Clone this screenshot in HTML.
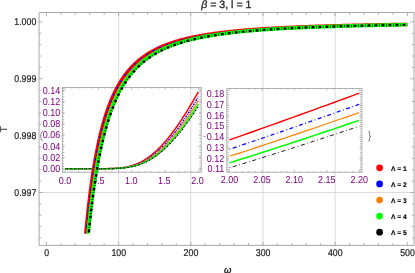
<!DOCTYPE html>
<html><head><meta charset="utf-8"><style>
html,body{margin:0;padding:0;background:#fff;}
svg{display:block;font-family:"Liberation Sans",sans-serif;text-rendering:geometricPrecision;}
.t{font-size:8.8px;fill:#1e1e1e;stroke:#1e1e1e;stroke-width:0.2px;}
.p{font-size:9px;fill:#800080;}
</style></head><body>
<svg width="415" height="273" viewBox="0 0 415 273">
<rect width="415" height="273" fill="#fff"/>
<g style="will-change:transform">
<line x1="118.58" y1="12.5" x2="118.58" y2="245.4" stroke="#d0d0d0" stroke-width="0.8"/>
<line x1="190.76" y1="12.5" x2="190.76" y2="245.4" stroke="#d0d0d0" stroke-width="0.8"/>
<line x1="262.94" y1="12.5" x2="262.94" y2="245.4" stroke="#d0d0d0" stroke-width="0.8"/>
<line x1="335.12" y1="12.5" x2="335.12" y2="245.4" stroke="#d0d0d0" stroke-width="0.8"/>
<line x1="39.05" y1="192.48" x2="414.0" y2="192.48" stroke="#d0d0d0" stroke-width="0.8"/>
<rect x="62.3" y="87.5" width="138.89999999999998" height="84.69999999999999" fill="none" stroke="#a0a0a0" stroke-width="0.8"/>
<line x1="63.4" y1="88.05" x2="63.4" y2="172.2" stroke="#9e9e9e" stroke-width="1.5" stroke-dasharray="0.7 2.093"/>
<line x1="200.1" y1="88.05" x2="200.1" y2="172.2" stroke="#9e9e9e" stroke-width="1.5" stroke-dasharray="0.7 2.093"/>
<line x1="65.10" y1="172.2" x2="65.10" y2="170.0" stroke="#9e9e9e" stroke-width="0.7"/>
<line x1="65.10" y1="87.5" x2="65.10" y2="89.7" stroke="#9e9e9e" stroke-width="0.7"/>
<line x1="71.77" y1="172.2" x2="71.77" y2="171.0" stroke="#9e9e9e" stroke-width="0.7"/>
<line x1="71.77" y1="87.5" x2="71.77" y2="88.7" stroke="#9e9e9e" stroke-width="0.7"/>
<line x1="78.43" y1="172.2" x2="78.43" y2="171.0" stroke="#9e9e9e" stroke-width="0.7"/>
<line x1="78.43" y1="87.5" x2="78.43" y2="88.7" stroke="#9e9e9e" stroke-width="0.7"/>
<line x1="85.09" y1="172.2" x2="85.09" y2="171.0" stroke="#9e9e9e" stroke-width="0.7"/>
<line x1="85.09" y1="87.5" x2="85.09" y2="88.7" stroke="#9e9e9e" stroke-width="0.7"/>
<line x1="91.76" y1="172.2" x2="91.76" y2="171.0" stroke="#9e9e9e" stroke-width="0.7"/>
<line x1="91.76" y1="87.5" x2="91.76" y2="88.7" stroke="#9e9e9e" stroke-width="0.7"/>
<line x1="98.42" y1="172.2" x2="98.42" y2="170.0" stroke="#9e9e9e" stroke-width="0.7"/>
<line x1="98.42" y1="87.5" x2="98.42" y2="89.7" stroke="#9e9e9e" stroke-width="0.7"/>
<line x1="105.09" y1="172.2" x2="105.09" y2="171.0" stroke="#9e9e9e" stroke-width="0.7"/>
<line x1="105.09" y1="87.5" x2="105.09" y2="88.7" stroke="#9e9e9e" stroke-width="0.7"/>
<line x1="111.75" y1="172.2" x2="111.75" y2="171.0" stroke="#9e9e9e" stroke-width="0.7"/>
<line x1="111.75" y1="87.5" x2="111.75" y2="88.7" stroke="#9e9e9e" stroke-width="0.7"/>
<line x1="118.42" y1="172.2" x2="118.42" y2="171.0" stroke="#9e9e9e" stroke-width="0.7"/>
<line x1="118.42" y1="87.5" x2="118.42" y2="88.7" stroke="#9e9e9e" stroke-width="0.7"/>
<line x1="125.09" y1="172.2" x2="125.09" y2="171.0" stroke="#9e9e9e" stroke-width="0.7"/>
<line x1="125.09" y1="87.5" x2="125.09" y2="88.7" stroke="#9e9e9e" stroke-width="0.7"/>
<line x1="131.75" y1="172.2" x2="131.75" y2="170.0" stroke="#9e9e9e" stroke-width="0.7"/>
<line x1="131.75" y1="87.5" x2="131.75" y2="89.7" stroke="#9e9e9e" stroke-width="0.7"/>
<line x1="138.42" y1="172.2" x2="138.42" y2="171.0" stroke="#9e9e9e" stroke-width="0.7"/>
<line x1="138.42" y1="87.5" x2="138.42" y2="88.7" stroke="#9e9e9e" stroke-width="0.7"/>
<line x1="145.08" y1="172.2" x2="145.08" y2="171.0" stroke="#9e9e9e" stroke-width="0.7"/>
<line x1="145.08" y1="87.5" x2="145.08" y2="88.7" stroke="#9e9e9e" stroke-width="0.7"/>
<line x1="151.75" y1="172.2" x2="151.75" y2="171.0" stroke="#9e9e9e" stroke-width="0.7"/>
<line x1="151.75" y1="87.5" x2="151.75" y2="88.7" stroke="#9e9e9e" stroke-width="0.7"/>
<line x1="158.41" y1="172.2" x2="158.41" y2="171.0" stroke="#9e9e9e" stroke-width="0.7"/>
<line x1="158.41" y1="87.5" x2="158.41" y2="88.7" stroke="#9e9e9e" stroke-width="0.7"/>
<line x1="165.07" y1="172.2" x2="165.07" y2="170.0" stroke="#9e9e9e" stroke-width="0.7"/>
<line x1="165.07" y1="87.5" x2="165.07" y2="89.7" stroke="#9e9e9e" stroke-width="0.7"/>
<line x1="171.74" y1="172.2" x2="171.74" y2="171.0" stroke="#9e9e9e" stroke-width="0.7"/>
<line x1="171.74" y1="87.5" x2="171.74" y2="88.7" stroke="#9e9e9e" stroke-width="0.7"/>
<line x1="178.41" y1="172.2" x2="178.41" y2="171.0" stroke="#9e9e9e" stroke-width="0.7"/>
<line x1="178.41" y1="87.5" x2="178.41" y2="88.7" stroke="#9e9e9e" stroke-width="0.7"/>
<line x1="185.07" y1="172.2" x2="185.07" y2="171.0" stroke="#9e9e9e" stroke-width="0.7"/>
<line x1="185.07" y1="87.5" x2="185.07" y2="88.7" stroke="#9e9e9e" stroke-width="0.7"/>
<line x1="191.74" y1="172.2" x2="191.74" y2="171.0" stroke="#9e9e9e" stroke-width="0.7"/>
<line x1="191.74" y1="87.5" x2="191.74" y2="88.7" stroke="#9e9e9e" stroke-width="0.7"/>
<line x1="198.40" y1="172.2" x2="198.40" y2="170.0" stroke="#9e9e9e" stroke-width="0.7"/>
<line x1="198.40" y1="87.5" x2="198.40" y2="89.7" stroke="#9e9e9e" stroke-width="0.7"/>
<line x1="62.3" y1="168.70" x2="64.8" y2="168.70" stroke="#9e9e9e" stroke-width="0.7"/>
<line x1="201.2" y1="168.70" x2="198.7" y2="168.70" stroke="#9e9e9e" stroke-width="0.7"/>
<line x1="62.3" y1="157.53" x2="64.8" y2="157.53" stroke="#9e9e9e" stroke-width="0.7"/>
<line x1="201.2" y1="157.53" x2="198.7" y2="157.53" stroke="#9e9e9e" stroke-width="0.7"/>
<line x1="62.3" y1="146.36" x2="64.8" y2="146.36" stroke="#9e9e9e" stroke-width="0.7"/>
<line x1="201.2" y1="146.36" x2="198.7" y2="146.36" stroke="#9e9e9e" stroke-width="0.7"/>
<line x1="62.3" y1="135.18" x2="64.8" y2="135.18" stroke="#9e9e9e" stroke-width="0.7"/>
<line x1="201.2" y1="135.18" x2="198.7" y2="135.18" stroke="#9e9e9e" stroke-width="0.7"/>
<line x1="62.3" y1="124.01" x2="64.8" y2="124.01" stroke="#9e9e9e" stroke-width="0.7"/>
<line x1="201.2" y1="124.01" x2="198.7" y2="124.01" stroke="#9e9e9e" stroke-width="0.7"/>
<line x1="62.3" y1="112.84" x2="64.8" y2="112.84" stroke="#9e9e9e" stroke-width="0.7"/>
<line x1="201.2" y1="112.84" x2="198.7" y2="112.84" stroke="#9e9e9e" stroke-width="0.7"/>
<line x1="62.3" y1="101.67" x2="64.8" y2="101.67" stroke="#9e9e9e" stroke-width="0.7"/>
<line x1="201.2" y1="101.67" x2="198.7" y2="101.67" stroke="#9e9e9e" stroke-width="0.7"/>
<line x1="62.3" y1="90.50" x2="64.8" y2="90.50" stroke="#9e9e9e" stroke-width="0.7"/>
<line x1="201.2" y1="90.50" x2="198.7" y2="90.50" stroke="#9e9e9e" stroke-width="0.7"/>
<polyline points="65.10,168.70 66.43,168.70 67.77,168.70 69.10,168.70 70.43,168.70 71.77,168.70 73.10,168.70 74.43,168.70 75.76,168.70 77.10,168.70 78.43,168.70 79.76,168.70 81.10,168.70 82.43,168.70 83.76,168.70 85.09,168.70 86.43,168.70 87.76,168.70 89.09,168.70 90.43,168.70 91.76,168.70 93.09,168.70 94.43,168.70 95.76,168.70 97.09,168.70 98.42,168.70 99.76,168.69 101.09,168.69 102.42,168.68 103.76,168.67 105.09,168.66 106.42,168.65 107.76,168.62 109.09,168.60 110.42,168.56 111.75,168.52 113.09,168.46 114.42,168.40 115.75,168.32 117.09,168.22 118.42,168.11 119.75,167.98 121.09,167.83 122.42,167.65 123.75,167.45 125.09,167.23 126.42,166.98 127.75,166.69 129.08,166.38 130.42,166.03 131.75,165.64 133.08,165.22 134.42,164.77 135.75,164.27 137.08,163.73 138.42,163.15 139.75,162.53 141.08,161.86 142.41,161.15 143.75,160.39 145.08,159.58 146.41,158.73 147.75,157.83 149.08,156.89 150.41,155.89 151.75,154.85 153.08,153.76 154.41,152.62 155.74,151.43 157.08,150.19 158.41,148.91 159.74,147.58 161.08,146.20 162.41,144.78 163.74,143.31 165.07,141.79 166.41,140.23 167.74,138.62 169.07,136.98 170.41,135.29 171.74,133.55 173.07,131.78 174.41,129.97 175.74,128.12 177.07,126.23 178.41,124.31 179.74,122.35 181.07,120.35 182.40,118.32 183.74,116.26 185.07,114.17 186.40,112.04 187.74,109.89 189.07,107.71 190.40,105.51 191.74,103.27 193.07,101.02 194.40,98.73 195.73,96.43 197.07,94.11 198.40,91.76" fill="none" stroke="#ff0000" stroke-width="1.5"/>
<polyline points="65.10,168.70 66.43,168.70 67.77,168.70 69.10,168.70 70.43,168.70 71.77,168.70 73.10,168.70 74.43,168.70 75.76,168.70 77.10,168.70 78.43,168.70 79.76,168.70 81.10,168.70 82.43,168.70 83.76,168.70 85.09,168.70 86.43,168.70 87.76,168.70 89.09,168.70 90.43,168.70 91.76,168.70 93.09,168.70 94.43,168.70 95.76,168.70 97.09,168.70 98.42,168.70 99.76,168.69 101.09,168.69 102.42,168.69 103.76,168.68 105.09,168.67 106.42,168.66 107.76,168.64 109.09,168.62 110.42,168.59 111.75,168.55 113.09,168.51 114.42,168.45 115.75,168.38 117.09,168.30 118.42,168.21 119.75,168.09 121.09,167.96 122.42,167.81 123.75,167.64 125.09,167.44 126.42,167.22 127.75,166.97 129.08,166.70 130.42,166.39 131.75,166.05 133.08,165.67 134.42,165.27 135.75,164.82 137.08,164.34 138.42,163.82 139.75,163.26 141.08,162.65 142.41,162.01 143.75,161.32 145.08,160.59 146.41,159.82 147.75,159.00 149.08,158.13 150.41,157.22 151.75,156.27 153.08,155.26 154.41,154.21 155.74,153.12 157.08,151.98 158.41,150.79 159.74,149.55 161.08,148.27 162.41,146.95 163.74,145.58 165.07,144.17 166.41,142.71 167.74,141.21 169.07,139.66 170.41,138.08 171.74,136.45 173.07,134.78 174.41,133.08 175.74,131.33 177.07,129.55 178.41,127.73 179.74,125.87 181.07,123.98 182.40,122.06 183.74,120.10 185.07,118.11 186.40,116.09 187.74,114.04 189.07,111.96 190.40,109.85 191.74,107.72 193.07,105.56 194.40,103.37 195.73,101.17 197.07,98.94 198.40,96.68" fill="none" stroke="#0000ff" stroke-width="1.4" stroke-dasharray="0.9 1.0 1.9 1.0"/>
<polyline points="65.10,168.70 66.43,168.70 67.77,168.70 69.10,168.70 70.43,168.70 71.77,168.70 73.10,168.70 74.43,168.70 75.76,168.70 77.10,168.70 78.43,168.70 79.76,168.70 81.10,168.70 82.43,168.70 83.76,168.70 85.09,168.70 86.43,168.70 87.76,168.70 89.09,168.70 90.43,168.70 91.76,168.70 93.09,168.70 94.43,168.70 95.76,168.70 97.09,168.70 98.42,168.70 99.76,168.70 101.09,168.69 102.42,168.69 103.76,168.68 105.09,168.68 106.42,168.66 107.76,168.65 109.09,168.63 110.42,168.61 111.75,168.57 113.09,168.53 114.42,168.49 115.75,168.43 117.09,168.36 118.42,168.27 119.75,168.17 121.09,168.06 122.42,167.92 123.75,167.77 125.09,167.59 126.42,167.39 127.75,167.17 129.08,166.92 130.42,166.64 131.75,166.33 133.08,165.99 134.42,165.62 135.75,165.21 137.08,164.77 138.42,164.29 139.75,163.77 141.08,163.22 142.41,162.62 143.75,161.99 145.08,161.31 146.41,160.59 147.75,159.83 149.08,159.02 150.41,158.17 151.75,157.28 153.08,156.34 154.41,155.36 155.74,154.33 157.08,153.26 158.41,152.14 159.74,150.98 161.08,149.78 162.41,148.53 163.74,147.23 165.07,145.89 166.41,144.51 167.74,143.09 169.07,141.63 170.41,140.12 171.74,138.57 173.07,136.98 174.41,135.36 175.74,133.69 177.07,131.99 178.41,130.25 179.74,128.48 181.07,126.66 182.40,124.82 183.74,122.94 185.07,121.03 186.40,119.09 187.74,117.12 189.07,115.11 190.40,113.08 191.74,111.03 193.07,108.94 194.40,106.83 195.73,104.70 197.07,102.54 198.40,100.36" fill="none" stroke="#ff8000" stroke-width="1.2"/>
<polyline points="65.10,168.70 66.43,168.70 67.77,168.70 69.10,168.70 70.43,168.70 71.77,168.70 73.10,168.70 74.43,168.70 75.76,168.70 77.10,168.70 78.43,168.70 79.76,168.70 81.10,168.70 82.43,168.70 83.76,168.70 85.09,168.70 86.43,168.70 87.76,168.70 89.09,168.70 90.43,168.70 91.76,168.70 93.09,168.70 94.43,168.70 95.76,168.70 97.09,168.70 98.42,168.70 99.76,168.70 101.09,168.69 102.42,168.69 103.76,168.69 105.09,168.68 106.42,168.67 107.76,168.66 109.09,168.64 110.42,168.62 111.75,168.59 113.09,168.56 114.42,168.52 115.75,168.46 117.09,168.40 118.42,168.33 119.75,168.24 121.09,168.13 122.42,168.01 123.75,167.88 125.09,167.72 126.42,167.54 127.75,167.34 129.08,167.11 130.42,166.86 131.75,166.57 133.08,166.27 134.42,165.92 135.75,165.55 137.08,165.15 138.42,164.71 139.75,164.23 141.08,163.72 142.41,163.17 143.75,162.58 145.08,161.95 146.41,161.29 147.75,160.58 149.08,159.83 150.41,159.03 151.75,158.20 153.08,157.32 154.41,156.40 155.74,155.44 157.08,154.43 158.41,153.38 159.74,152.28 161.08,151.15 162.41,149.97 163.74,148.74 165.07,147.48 166.41,146.17 167.74,144.82 169.07,143.43 170.41,141.99 171.74,140.52 173.07,139.01 174.41,137.46 175.74,135.87 177.07,134.24 178.41,132.58 179.74,130.88 181.07,129.15 182.40,127.38 183.74,125.58 185.07,123.74 186.40,121.87 187.74,119.98 189.07,118.05 190.40,116.09 191.74,114.11 193.07,112.09 194.40,110.06 195.73,107.99 197.07,105.91 198.40,103.80" fill="none" stroke="#00ff00" stroke-width="1.5"/>
<polyline points="65.10,168.70 66.43,168.70 67.77,168.70 69.10,168.70 70.43,168.70 71.77,168.70 73.10,168.70 74.43,168.70 75.76,168.70 77.10,168.70 78.43,168.70 79.76,168.70 81.10,168.70 82.43,168.70 83.76,168.70 85.09,168.70 86.43,168.70 87.76,168.70 89.09,168.70 90.43,168.70 91.76,168.70 93.09,168.70 94.43,168.70 95.76,168.70 97.09,168.70 98.42,168.70 99.76,168.70 101.09,168.70 102.42,168.69 103.76,168.69 105.09,168.68 106.42,168.67 107.76,168.66 109.09,168.65 110.42,168.63 111.75,168.60 113.09,168.57 114.42,168.54 115.75,168.49 117.09,168.43 118.42,168.36 119.75,168.28 121.09,168.19 122.42,168.08 123.75,167.95 125.09,167.81 126.42,167.64 127.75,167.46 129.08,167.24 130.42,167.01 131.75,166.75 133.08,166.46 134.42,166.14 135.75,165.80 137.08,165.42 138.42,165.01 139.75,164.56 141.08,164.08 142.41,163.56 143.75,163.01 145.08,162.42 146.41,161.79 147.75,161.12 149.08,160.41 150.41,159.66 151.75,158.87 153.08,158.03 154.41,157.16 155.74,156.24 157.08,155.28 158.41,154.28 159.74,153.23 161.08,152.15 162.41,151.02 163.74,149.85 165.07,148.64 166.41,147.38 167.74,146.09 169.07,144.75 170.41,143.38 171.74,141.96 173.07,140.51 174.41,139.01 175.74,137.48 177.07,135.91 178.41,134.31 179.74,132.67 181.07,130.99 182.40,129.28 183.74,127.53 185.07,125.76 186.40,123.95 187.74,122.11 189.07,120.23 190.40,118.34 191.74,116.41 193.07,114.45 194.40,112.47 195.73,110.46 197.07,108.43 198.40,106.37" fill="none" stroke="#000000" stroke-width="1.2" stroke-dasharray="0.5 0.9 1.5 0.9"/>
<text transform="translate(60.2,171.85) scale(1,1.12)" text-anchor="end" class="p">0.00</text>
<text transform="translate(60.2,160.68) scale(1,1.12)" text-anchor="end" class="p">0.02</text>
<text transform="translate(60.2,149.51) scale(1,1.12)" text-anchor="end" class="p">0.04</text>
<text transform="translate(60.2,138.33) scale(1,1.12)" text-anchor="end" class="p">0.06</text>
<text transform="translate(60.2,127.16) scale(1,1.12)" text-anchor="end" class="p">0.08</text>
<text transform="translate(60.2,115.99) scale(1,1.12)" text-anchor="end" class="p">0.10</text>
<text transform="translate(60.2,104.82) scale(1,1.12)" text-anchor="end" class="p">0.12</text>
<text transform="translate(60.2,93.65) scale(1,1.12)" text-anchor="end" class="p">0.14</text>
<text transform="translate(65.10,183.8) scale(1,1.12)" text-anchor="middle" class="p">0.0</text>
<text transform="translate(98.17,183.8) scale(1,1.12)" text-anchor="middle" class="p">0.5</text>
<text transform="translate(131.25,183.8) scale(1,1.12)" text-anchor="middle" class="p">1.0</text>
<text transform="translate(164.32,183.8) scale(1,1.12)" text-anchor="middle" class="p">1.5</text>
<text transform="translate(197.40,183.8) scale(1,1.12)" text-anchor="middle" class="p">2.0</text>
<rect x="226.8" y="88.4" width="135.09999999999997" height="83.79999999999998" fill="none" stroke="#a0a0a0" stroke-width="0.8"/>
<line x1="227.9" y1="89.97" x2="227.9" y2="172.2" stroke="#9e9e9e" stroke-width="1.5" stroke-dasharray="0.7 1.44"/>
<line x1="360.79999999999995" y1="89.97" x2="360.79999999999995" y2="172.2" stroke="#9e9e9e" stroke-width="1.5" stroke-dasharray="0.7 1.44"/>
<line x1="229.50" y1="172.2" x2="229.50" y2="170.0" stroke="#9e9e9e" stroke-width="0.7"/>
<line x1="229.50" y1="88.4" x2="229.50" y2="90.60000000000001" stroke="#9e9e9e" stroke-width="0.7"/>
<line x1="235.98" y1="172.2" x2="235.98" y2="171.0" stroke="#9e9e9e" stroke-width="0.7"/>
<line x1="235.98" y1="88.4" x2="235.98" y2="89.60000000000001" stroke="#9e9e9e" stroke-width="0.7"/>
<line x1="242.47" y1="172.2" x2="242.47" y2="171.0" stroke="#9e9e9e" stroke-width="0.7"/>
<line x1="242.47" y1="88.4" x2="242.47" y2="89.60000000000001" stroke="#9e9e9e" stroke-width="0.7"/>
<line x1="248.95" y1="172.2" x2="248.95" y2="171.0" stroke="#9e9e9e" stroke-width="0.7"/>
<line x1="248.95" y1="88.4" x2="248.95" y2="89.60000000000001" stroke="#9e9e9e" stroke-width="0.7"/>
<line x1="255.44" y1="172.2" x2="255.44" y2="171.0" stroke="#9e9e9e" stroke-width="0.7"/>
<line x1="255.44" y1="88.4" x2="255.44" y2="89.60000000000001" stroke="#9e9e9e" stroke-width="0.7"/>
<line x1="261.92" y1="172.2" x2="261.92" y2="170.0" stroke="#9e9e9e" stroke-width="0.7"/>
<line x1="261.92" y1="88.4" x2="261.92" y2="90.60000000000001" stroke="#9e9e9e" stroke-width="0.7"/>
<line x1="268.41" y1="172.2" x2="268.41" y2="171.0" stroke="#9e9e9e" stroke-width="0.7"/>
<line x1="268.41" y1="88.4" x2="268.41" y2="89.60000000000001" stroke="#9e9e9e" stroke-width="0.7"/>
<line x1="274.89" y1="172.2" x2="274.89" y2="171.0" stroke="#9e9e9e" stroke-width="0.7"/>
<line x1="274.89" y1="88.4" x2="274.89" y2="89.60000000000001" stroke="#9e9e9e" stroke-width="0.7"/>
<line x1="281.38" y1="172.2" x2="281.38" y2="171.0" stroke="#9e9e9e" stroke-width="0.7"/>
<line x1="281.38" y1="88.4" x2="281.38" y2="89.60000000000001" stroke="#9e9e9e" stroke-width="0.7"/>
<line x1="287.86" y1="172.2" x2="287.86" y2="171.0" stroke="#9e9e9e" stroke-width="0.7"/>
<line x1="287.86" y1="88.4" x2="287.86" y2="89.60000000000001" stroke="#9e9e9e" stroke-width="0.7"/>
<line x1="294.35" y1="172.2" x2="294.35" y2="170.0" stroke="#9e9e9e" stroke-width="0.7"/>
<line x1="294.35" y1="88.4" x2="294.35" y2="90.60000000000001" stroke="#9e9e9e" stroke-width="0.7"/>
<line x1="300.83" y1="172.2" x2="300.83" y2="171.0" stroke="#9e9e9e" stroke-width="0.7"/>
<line x1="300.83" y1="88.4" x2="300.83" y2="89.60000000000001" stroke="#9e9e9e" stroke-width="0.7"/>
<line x1="307.32" y1="172.2" x2="307.32" y2="171.0" stroke="#9e9e9e" stroke-width="0.7"/>
<line x1="307.32" y1="88.4" x2="307.32" y2="89.60000000000001" stroke="#9e9e9e" stroke-width="0.7"/>
<line x1="313.80" y1="172.2" x2="313.80" y2="171.0" stroke="#9e9e9e" stroke-width="0.7"/>
<line x1="313.80" y1="88.4" x2="313.80" y2="89.60000000000001" stroke="#9e9e9e" stroke-width="0.7"/>
<line x1="320.29" y1="172.2" x2="320.29" y2="171.0" stroke="#9e9e9e" stroke-width="0.7"/>
<line x1="320.29" y1="88.4" x2="320.29" y2="89.60000000000001" stroke="#9e9e9e" stroke-width="0.7"/>
<line x1="326.77" y1="172.2" x2="326.77" y2="170.0" stroke="#9e9e9e" stroke-width="0.7"/>
<line x1="326.77" y1="88.4" x2="326.77" y2="90.60000000000001" stroke="#9e9e9e" stroke-width="0.7"/>
<line x1="333.26" y1="172.2" x2="333.26" y2="171.0" stroke="#9e9e9e" stroke-width="0.7"/>
<line x1="333.26" y1="88.4" x2="333.26" y2="89.60000000000001" stroke="#9e9e9e" stroke-width="0.7"/>
<line x1="339.74" y1="172.2" x2="339.74" y2="171.0" stroke="#9e9e9e" stroke-width="0.7"/>
<line x1="339.74" y1="88.4" x2="339.74" y2="89.60000000000001" stroke="#9e9e9e" stroke-width="0.7"/>
<line x1="346.23" y1="172.2" x2="346.23" y2="171.0" stroke="#9e9e9e" stroke-width="0.7"/>
<line x1="346.23" y1="88.4" x2="346.23" y2="89.60000000000001" stroke="#9e9e9e" stroke-width="0.7"/>
<line x1="352.71" y1="172.2" x2="352.71" y2="171.0" stroke="#9e9e9e" stroke-width="0.7"/>
<line x1="352.71" y1="88.4" x2="352.71" y2="89.60000000000001" stroke="#9e9e9e" stroke-width="0.7"/>
<line x1="359.20" y1="172.2" x2="359.20" y2="170.0" stroke="#9e9e9e" stroke-width="0.7"/>
<line x1="359.20" y1="88.4" x2="359.20" y2="90.60000000000001" stroke="#9e9e9e" stroke-width="0.7"/>
<line x1="226.8" y1="169.50" x2="229.3" y2="169.50" stroke="#9e9e9e" stroke-width="0.7"/>
<line x1="361.9" y1="169.50" x2="359.4" y2="169.50" stroke="#9e9e9e" stroke-width="0.7"/>
<line x1="226.8" y1="158.80" x2="229.3" y2="158.80" stroke="#9e9e9e" stroke-width="0.7"/>
<line x1="361.9" y1="158.80" x2="359.4" y2="158.80" stroke="#9e9e9e" stroke-width="0.7"/>
<line x1="226.8" y1="148.10" x2="229.3" y2="148.10" stroke="#9e9e9e" stroke-width="0.7"/>
<line x1="361.9" y1="148.10" x2="359.4" y2="148.10" stroke="#9e9e9e" stroke-width="0.7"/>
<line x1="226.8" y1="137.40" x2="229.3" y2="137.40" stroke="#9e9e9e" stroke-width="0.7"/>
<line x1="361.9" y1="137.40" x2="359.4" y2="137.40" stroke="#9e9e9e" stroke-width="0.7"/>
<line x1="226.8" y1="126.70" x2="229.3" y2="126.70" stroke="#9e9e9e" stroke-width="0.7"/>
<line x1="361.9" y1="126.70" x2="359.4" y2="126.70" stroke="#9e9e9e" stroke-width="0.7"/>
<line x1="226.8" y1="116.00" x2="229.3" y2="116.00" stroke="#9e9e9e" stroke-width="0.7"/>
<line x1="361.9" y1="116.00" x2="359.4" y2="116.00" stroke="#9e9e9e" stroke-width="0.7"/>
<line x1="226.8" y1="105.30" x2="229.3" y2="105.30" stroke="#9e9e9e" stroke-width="0.7"/>
<line x1="361.9" y1="105.30" x2="359.4" y2="105.30" stroke="#9e9e9e" stroke-width="0.7"/>
<line x1="226.8" y1="94.60" x2="229.3" y2="94.60" stroke="#9e9e9e" stroke-width="0.7"/>
<line x1="361.9" y1="94.60" x2="359.4" y2="94.60" stroke="#9e9e9e" stroke-width="0.7"/>
<polyline points="229.50,139.82 235.98,137.56 242.47,135.30 248.96,133.02 255.44,130.73 261.92,128.44 268.41,126.14 274.90,123.83 281.38,121.51 287.86,119.18 294.35,116.85 300.84,114.51 307.32,112.17 313.80,109.82 320.29,107.46 326.78,105.10 333.26,102.73 339.74,100.36 346.23,97.98 352.72,95.59 359.20,93.21" fill="none" stroke="#ff0000" stroke-width="1.4"/>
<polyline points="229.50,149.25 235.98,147.08 242.47,144.90 248.96,142.71 255.44,140.50 261.92,138.30 268.41,136.08 274.90,133.85 281.38,131.62 287.86,129.37 294.35,127.12 300.84,124.87 307.32,122.60 313.80,120.33 320.29,118.05 326.78,115.76 333.26,113.47 339.74,111.17 346.23,108.87 352.72,106.56 359.20,104.25" fill="none" stroke="#0000ff" stroke-width="1.25" stroke-dasharray="0.8 2.6 4.0 2.6"/>
<polyline points="229.50,156.29 235.98,154.18 242.47,152.07 248.96,149.95 255.44,147.81 261.92,145.67 268.41,143.52 274.90,141.36 281.38,139.19 287.86,137.01 294.35,134.82 300.84,132.63 307.32,130.42 313.80,128.21 320.29,126.00 326.78,123.77 333.26,121.54 339.74,119.30 346.23,117.06 352.72,114.81 359.20,112.55" fill="none" stroke="#ff8000" stroke-width="1.2"/>
<polyline points="229.50,162.87 235.98,160.84 242.47,158.79 248.96,156.73 255.44,154.66 261.92,152.58 268.41,150.49 274.90,148.40 281.38,146.29 287.86,144.17 294.35,142.05 300.84,139.92 307.32,137.78 313.80,135.63 320.29,133.47 326.78,131.31 333.26,129.13 339.74,126.96 346.23,124.77 352.72,122.58 359.20,120.38" fill="none" stroke="#00ff00" stroke-width="1.5"/>
<polyline points="229.50,167.81 235.98,165.82 242.47,163.82 248.96,161.81 255.44,159.80 261.92,157.77 268.41,155.73 274.90,153.68 281.38,151.62 287.86,149.56 294.35,147.48 300.84,145.40 307.32,143.30 313.80,141.20 320.29,139.09 326.78,136.97 333.26,134.85 339.74,132.71 346.23,130.57 352.72,128.43 359.20,126.27" fill="none" stroke="#000000" stroke-width="0.9" stroke-dasharray="0.8 2.6 4.2 2.6"/>
<text transform="translate(224.3,172.20) scale(1,1.12)" text-anchor="end" class="p">0.11</text>
<text transform="translate(224.3,161.50) scale(1,1.12)" text-anchor="end" class="p">0.12</text>
<text transform="translate(224.3,150.80) scale(1,1.12)" text-anchor="end" class="p">0.13</text>
<text transform="translate(224.3,140.10) scale(1,1.12)" text-anchor="end" class="p">0.14</text>
<text transform="translate(224.3,129.40) scale(1,1.12)" text-anchor="end" class="p">0.15</text>
<text transform="translate(224.3,118.70) scale(1,1.12)" text-anchor="end" class="p">0.16</text>
<text transform="translate(224.3,108.00) scale(1,1.12)" text-anchor="end" class="p">0.17</text>
<text transform="translate(224.3,97.30) scale(1,1.12)" text-anchor="end" class="p">0.18</text>
<text transform="translate(229.50,183.3) scale(1,1.12)" text-anchor="middle" class="p">2.00</text>
<text transform="translate(261.92,183.3) scale(1,1.12)" text-anchor="middle" class="p">2.05</text>
<text transform="translate(294.35,183.3) scale(1,1.12)" text-anchor="middle" class="p">2.10</text>
<text transform="translate(326.77,183.3) scale(1,1.12)" text-anchor="middle" class="p">2.15</text>
<text transform="translate(359.20,183.3) scale(1,1.12)" text-anchor="middle" class="p">2.20</text>
<text x="41.3" y="138.6" text-anchor="middle" font-size="11" fill="#8a8a8a">(</text>
<text x="369.6" y="138.5" text-anchor="middle" font-size="10.8" fill="#777">}</text>
<line x1="48.5" y1="136.2" x2="60.2" y2="136.2" stroke="#aaa" stroke-width="1" opacity="0.55"/>
<line x1="203.5" y1="136.6" x2="205.5" y2="136.6" stroke="#999" stroke-width="1"/>
<clipPath id="cp"><rect x="39" y="12" width="375" height="221.5"/></clipPath>
<g clip-path="url(#cp)">
<polyline points="78.88,333.58 79.22,327.14 79.56,320.91 79.90,314.86 80.24,309.00 80.58,303.31 80.92,297.78 81.26,292.42 81.60,287.21 81.95,282.16 82.29,277.24 82.63,272.46 82.97,267.82 83.31,263.30 83.65,258.91 83.99,254.64 84.33,250.48 84.67,246.43 85.01,242.48 85.35,238.65 85.69,234.91 86.03,231.26 86.37,227.71 86.71,224.25 87.05,220.87 87.39,217.58 87.73,214.37 88.07,211.24 88.41,208.18 88.75,205.20 89.10,202.29 89.44,199.44 89.78,196.67 90.12,193.96 90.46,191.31 90.80,188.72 91.14,186.19 91.48,183.72 91.82,181.30 92.16,178.94 92.50,176.63 92.84,174.37 93.18,172.15 93.52,169.99 93.86,167.87 94.20,165.80 94.54,163.77 94.88,161.79 95.22,159.84 95.56,157.94 95.90,156.08 96.25,154.25 96.59,152.46 96.93,150.71 97.27,148.99 97.61,147.30 97.95,145.65 98.29,144.03 98.63,142.45 98.97,140.89 99.31,139.36 99.65,137.87 99.99,136.40 100.33,134.96 100.67,133.54 101.01,132.15 101.35,130.79 101.69,129.45 102.03,128.14 102.37,126.85 102.71,125.59 103.05,124.35 103.39,123.13 103.74,121.93 104.08,120.75 104.42,119.59 104.76,118.46 105.10,117.34 105.44,116.24 105.78,115.16 106.12,114.10 106.46,113.06 106.80,112.04 107.14,111.03 107.48,110.04 107.82,109.06 108.16,108.10 108.50,107.16 108.84,106.23 109.18,105.32 109.52,104.42 109.86,103.54 110.20,102.67 110.54,101.82 110.89,100.98 111.23,100.15 111.57,99.33 111.91,98.53 112.25,97.74 112.59,96.96 112.93,96.19 113.27,95.44 113.61,94.70 113.95,93.96 114.29,93.24 114.63,92.53 114.97,91.83 115.31,91.14 115.65,90.46 115.99,89.80 116.33,89.14 116.67,88.49 117.01,87.85 117.35,87.21 117.69,86.59 118.04,85.98 118.38,85.37 118.72,84.78 119.06,84.19 119.40,83.61 119.74,83.04 120.08,82.47 120.42,81.92 120.76,81.37 121.10,80.83 121.44,80.30 121.78,79.77 122.12,79.25 122.46,78.74 122.80,78.23 123.14,77.73 123.48,77.24 123.82,76.76 124.16,76.28 124.50,75.80 124.84,75.34 125.19,74.88 125.53,74.42 125.87,73.97 126.21,73.53 126.55,73.09 126.89,72.66 127.23,72.23 127.57,71.81 127.91,71.39 128.25,70.98 128.59,70.58 128.93,70.18 129.27,69.78 129.61,69.39 129.95,69.00 130.29,68.62 130.63,68.24 130.97,67.87 131.31,67.50 131.65,67.14 131.99,66.78 132.34,66.43 132.68,66.08 133.02,65.73 134.39,64.37 135.77,63.07 137.15,61.83 138.53,60.64 139.91,59.51 141.29,58.42 142.66,57.38 144.04,56.39 145.42,55.44 146.80,54.52 148.18,53.64 149.56,52.80 150.93,51.99 152.31,51.21 153.69,50.47 155.07,49.75 156.45,49.05 157.83,48.38 159.20,47.74 160.58,47.12 161.96,46.52 163.34,45.95 164.72,45.39 166.10,44.85 167.47,44.33 168.85,43.83 170.23,43.34 171.61,42.87 172.99,42.42 174.37,41.98 175.74,41.56 177.12,41.14 178.50,40.74 179.88,40.36 181.26,39.98 182.64,39.62 184.01,39.26 185.39,38.92 186.77,38.59 188.15,38.27 189.53,37.95 190.91,37.65 192.28,37.35 193.66,37.06 195.04,36.78 196.42,36.51 197.80,36.25 199.17,35.99 200.55,35.74 201.93,35.49 203.31,35.26 204.69,35.02 206.07,34.80 207.44,34.58 208.82,34.36 210.20,34.16 211.58,33.95 212.96,33.75 214.34,33.56 215.71,33.37 217.09,33.19 218.47,33.01 219.85,32.83 221.23,32.66 222.61,32.49 223.98,32.33 225.36,32.17 226.74,32.01 228.12,31.86 229.50,31.71 230.88,31.56 232.25,31.42 233.63,31.28 235.01,31.14 236.39,31.01 237.77,30.88 239.15,30.75 240.52,30.63 241.90,30.50 243.28,30.38 244.66,30.27 246.04,30.15 247.42,30.04 248.79,29.93 250.17,29.82 251.55,29.71 252.93,29.61 254.31,29.51 255.69,29.41 257.06,29.31 258.44,29.21 259.82,29.12 261.20,29.03 262.58,28.94 263.96,28.85 265.33,28.76 266.71,28.67 268.09,28.59 269.47,28.51 270.85,28.43 272.23,28.35 273.60,28.27 274.98,28.19 276.36,28.12 277.74,28.04 279.12,27.97 280.50,27.90 281.87,27.83 283.25,27.76 284.63,27.69 286.01,27.63 287.39,27.56 288.77,27.50 290.14,27.43 291.52,27.37 292.90,27.31 294.28,27.25 295.66,27.19 297.04,27.13 298.41,27.08 299.79,27.02 301.17,26.97 302.55,26.91 303.93,26.86 305.30,26.81 306.68,26.75 308.06,26.70 309.44,26.65 310.82,26.60 312.20,26.55 313.57,26.51 314.95,26.46 316.33,26.41 317.71,26.37 319.09,26.32 320.47,26.28 321.84,26.23 323.22,26.19 324.60,26.15 325.98,26.11 327.36,26.07 328.74,26.03 330.11,25.99 331.49,25.95 332.87,25.91 334.25,25.87 335.63,25.83 337.01,25.79 338.38,25.76 339.76,25.72 341.14,25.69 342.52,25.65 343.90,25.62 345.28,25.58 346.65,25.55 348.03,25.51 349.41,25.48 350.79,25.45 352.17,25.42 353.55,25.39 354.92,25.35 356.30,25.32 357.68,25.29 359.06,25.26 360.44,25.23 361.82,25.21 363.19,25.18 364.57,25.15 365.95,25.12 367.33,25.09 368.71,25.07 370.09,25.04 371.46,25.01 372.84,24.99 374.22,24.96 375.60,24.93 376.98,24.91 378.36,24.88 379.73,24.86 381.11,24.84 382.49,24.81 383.87,24.79 385.25,24.76 386.63,24.74 388.00,24.72 389.38,24.70 390.76,24.67 392.14,24.65 393.52,24.63 394.90,24.61 396.27,24.59 397.65,24.57 399.03,24.54 400.41,24.52 401.79,24.50 403.17,24.48 404.54,24.46 405.92,24.44 407.30,24.42" fill="none" stroke="#ff0000" stroke-width="3.6" stroke-linejoin="round"/>
<polyline points="78.88,334.98 79.22,328.52 79.56,322.26 79.90,316.18 80.24,310.29 80.58,304.57 80.92,299.03 81.26,293.64 81.60,288.41 81.95,283.33 82.29,278.39 82.63,273.59 82.97,268.93 83.31,264.39 83.65,259.98 83.99,255.68 84.33,251.51 84.67,247.44 85.01,243.48 85.35,239.62 85.69,235.86 86.03,232.20 86.37,228.64 86.71,225.16 87.05,221.77 87.39,218.46 87.73,215.24 88.07,212.09 88.41,209.02 88.75,206.02 89.10,203.10 89.44,200.24 89.78,197.46 90.12,194.73 90.46,192.07 90.80,189.47 91.14,186.93 91.48,184.45 91.82,182.02 92.16,179.64 92.50,177.32 92.84,175.05 93.18,172.83 93.52,170.66 93.86,168.53 94.20,166.45 94.54,164.41 94.88,162.42 95.22,160.47 95.56,158.55 95.90,156.68 96.25,154.84 96.59,153.05 96.93,151.29 97.27,149.56 97.61,147.87 97.95,146.21 98.29,144.58 98.63,142.99 98.97,141.43 99.31,139.89 99.65,138.39 99.99,136.91 100.33,135.46 100.67,134.04 101.01,132.65 101.35,131.28 101.69,129.94 102.03,128.62 102.37,127.33 102.71,126.06 103.05,124.81 103.39,123.58 103.74,122.38 104.08,121.19 104.42,120.03 104.76,118.89 105.10,117.77 105.44,116.67 105.78,115.58 106.12,114.52 106.46,113.47 106.80,112.44 107.14,111.43 107.48,110.43 107.82,109.45 108.16,108.49 108.50,107.55 108.84,106.61 109.18,105.70 109.52,104.80 109.86,103.91 110.20,103.04 110.54,102.18 110.89,101.33 111.23,100.50 111.57,99.68 111.91,98.87 112.25,98.08 112.59,97.30 112.93,96.53 113.27,95.77 113.61,95.02 113.95,94.29 114.29,93.56 114.63,92.85 114.97,92.15 115.31,91.46 115.65,90.77 115.99,90.10 116.33,89.44 116.67,88.79 117.01,88.14 117.35,87.51 117.69,86.88 118.04,86.27 118.38,85.66 118.72,85.06 119.06,84.47 119.40,83.89 119.74,83.31 120.08,82.75 120.42,82.19 120.76,81.64 121.10,81.09 121.44,80.56 121.78,80.03 122.12,79.51 122.46,78.99 122.80,78.49 123.14,77.98 123.48,77.49 123.82,77.00 124.16,76.52 124.50,76.05 124.84,75.58 125.19,75.11 125.53,74.66 125.87,74.21 126.21,73.76 126.55,73.32 126.89,72.89 127.23,72.46 127.57,72.03 127.91,71.62 128.25,71.20 128.59,70.80 128.93,70.39 129.27,70.00 129.61,69.60 129.95,69.22 130.29,68.83 130.63,68.45 130.97,68.08 131.31,67.71 131.65,67.34 131.99,66.98 132.34,66.63 132.68,66.28 133.02,65.93 134.39,64.56 135.77,63.25 137.15,62.01 138.53,60.82 139.91,59.68 141.29,58.59 142.66,57.54 144.04,56.54 145.42,55.59 146.80,54.67 148.18,53.79 149.56,52.94 150.93,52.13 152.31,51.35 153.69,50.59 155.07,49.87 156.45,49.17 157.83,48.50 159.20,47.86 160.58,47.23 161.96,46.63 163.34,46.05 164.72,45.49 166.10,44.95 167.47,44.43 168.85,43.93 170.23,43.44 171.61,42.97 172.99,42.51 174.37,42.07 175.74,41.64 177.12,41.23 178.50,40.83 179.88,40.44 181.26,40.06 182.64,39.70 184.01,39.34 185.39,39.00 186.77,38.66 188.15,38.34 189.53,38.02 190.91,37.72 192.28,37.42 193.66,37.13 195.04,36.85 196.42,36.58 197.80,36.31 199.17,36.05 200.55,35.80 201.93,35.55 203.31,35.32 204.69,35.08 206.07,34.86 207.44,34.64 208.82,34.42 210.20,34.21 211.58,34.01 212.96,33.81 214.34,33.61 215.71,33.42 217.09,33.24 218.47,33.06 219.85,32.88 221.23,32.71 222.61,32.54 223.98,32.37 225.36,32.21 226.74,32.06 228.12,31.90 229.50,31.75 230.88,31.61 232.25,31.46 233.63,31.32 235.01,31.18 236.39,31.05 237.77,30.92 239.15,30.79 240.52,30.67 241.90,30.54 243.28,30.42 244.66,30.30 246.04,30.19 247.42,30.07 248.79,29.96 250.17,29.85 251.55,29.75 252.93,29.64 254.31,29.54 255.69,29.44 257.06,29.34 258.44,29.25 259.82,29.15 261.20,29.06 262.58,28.97 263.96,28.88 265.33,28.79 266.71,28.71 268.09,28.62 269.47,28.54 270.85,28.46 272.23,28.38 273.60,28.30 274.98,28.22 276.36,28.15 277.74,28.07 279.12,28.00 280.50,27.93 281.87,27.86 283.25,27.79 284.63,27.72 286.01,27.65 287.39,27.59 288.77,27.52 290.14,27.46 291.52,27.40 292.90,27.34 294.28,27.28 295.66,27.22 297.04,27.16 298.41,27.10 299.79,27.04 301.17,26.99 302.55,26.93 303.93,26.88 305.30,26.83 306.68,26.78 308.06,26.72 309.44,26.67 310.82,26.62 312.20,26.58 313.57,26.53 314.95,26.48 316.33,26.43 317.71,26.39 319.09,26.34 320.47,26.30 321.84,26.25 323.22,26.21 324.60,26.17 325.98,26.13 327.36,26.08 328.74,26.04 330.11,26.00 331.49,25.96 332.87,25.92 334.25,25.89 335.63,25.85 337.01,25.81 338.38,25.77 339.76,25.74 341.14,25.70 342.52,25.67 343.90,25.63 345.28,25.60 346.65,25.56 348.03,25.53 349.41,25.50 350.79,25.46 352.17,25.43 353.55,25.40 354.92,25.37 356.30,25.34 357.68,25.31 359.06,25.28 360.44,25.25 361.82,25.22 363.19,25.19 364.57,25.16 365.95,25.13 367.33,25.11 368.71,25.08 370.09,25.05 371.46,25.03 372.84,25.00 374.22,24.97 375.60,24.95 376.98,24.92 378.36,24.90 379.73,24.87 381.11,24.85 382.49,24.82 383.87,24.80 385.25,24.78 386.63,24.75 388.00,24.73 389.38,24.71 390.76,24.69 392.14,24.66 393.52,24.64 394.90,24.62 396.27,24.60 397.65,24.58 399.03,24.56 400.41,24.54 401.79,24.52 403.17,24.50 404.54,24.48 405.92,24.46 407.30,24.44" fill="none" stroke="#0000ff" stroke-width="1.1" stroke-dasharray="0.9 1.9 2.8 1.9" stroke-linejoin="round"/>
<polyline points="78.88,351.83 79.22,345.02 79.56,338.42 79.90,332.02 80.24,325.81 80.58,319.79 80.92,313.94 81.26,308.26 81.60,302.75 81.95,297.40 82.29,292.19 82.63,287.14 82.97,282.22 83.31,277.44 83.65,272.79 83.99,268.26 84.33,263.86 84.67,259.58 85.01,255.40 85.35,251.34 85.69,247.38 86.03,243.52 86.37,239.76 86.71,236.10 87.05,232.52 87.39,229.04 87.73,225.64 88.07,222.33 88.41,219.09 88.75,215.93 89.10,212.85 89.44,209.84 89.78,206.90 90.12,204.03 90.46,201.23 90.80,198.49 91.14,195.81 91.48,193.19 91.82,190.63 92.16,188.13 92.50,185.69 92.84,183.29 93.18,180.95 93.52,178.66 93.86,176.42 94.20,174.23 94.54,172.08 94.88,169.98 95.22,167.92 95.56,165.91 95.90,163.93 96.25,162.00 96.59,160.10 96.93,158.25 97.27,156.43 97.61,154.65 97.95,152.90 98.29,151.18 98.63,149.50 98.97,147.86 99.31,146.24 99.65,144.66 99.99,143.10 100.33,141.58 100.67,140.08 101.01,138.61 101.35,137.17 101.69,135.75 102.03,134.36 102.37,133.00 102.71,131.66 103.05,130.35 103.39,129.05 103.74,127.78 104.08,126.54 104.42,125.31 104.76,124.11 105.10,122.93 105.44,121.77 105.78,120.62 106.12,119.50 106.46,118.40 106.80,117.31 107.14,116.25 107.48,115.20 107.82,114.17 108.16,113.15 108.50,112.15 108.84,111.17 109.18,110.21 109.52,109.26 109.86,108.32 110.20,107.40 110.54,106.50 110.89,105.61 111.23,104.73 111.57,103.87 111.91,103.02 112.25,102.18 112.59,101.36 112.93,100.54 113.27,99.75 113.61,98.96 113.95,98.18 114.29,97.42 114.63,96.67 114.97,95.93 115.31,95.20 115.65,94.48 115.99,93.77 116.33,93.07 116.67,92.39 117.01,91.71 117.35,91.04 117.69,90.38 118.04,89.73 118.38,89.09 118.72,88.46 119.06,87.84 119.40,87.22 119.74,86.62 120.08,86.02 120.42,85.43 120.76,84.85 121.10,84.28 121.44,83.71 121.78,83.16 122.12,82.61 122.46,82.07 122.80,81.53 123.14,81.00 123.48,80.48 123.82,79.97 124.16,79.46 124.50,78.96 124.84,78.47 125.19,77.98 125.53,77.50 125.87,77.02 126.21,76.55 126.55,76.09 126.89,75.63 127.23,75.18 127.57,74.73 127.91,74.29 128.25,73.86 128.59,73.43 128.93,73.00 129.27,72.58 129.61,72.17 129.95,71.76 130.29,71.36 130.63,70.96 130.97,70.56 131.31,70.18 131.65,69.79 131.99,69.41 132.34,69.03 132.68,68.66 133.02,68.30 134.39,66.85 135.77,65.48 137.15,64.16 138.53,62.91 139.91,61.71 141.29,60.56 142.66,59.46 144.04,58.41 145.42,57.40 146.80,56.43 148.18,55.50 149.56,54.61 150.93,53.75 152.31,52.93 153.69,52.14 155.07,51.38 156.45,50.64 157.83,49.94 159.20,49.25 160.58,48.60 161.96,47.97 163.34,47.35 164.72,46.76 166.10,46.20 167.47,45.65 168.85,45.11 170.23,44.60 171.61,44.10 172.99,43.62 174.37,43.16 175.74,42.71 177.12,42.27 178.50,41.85 179.88,41.44 181.26,41.04 182.64,40.65 184.01,40.28 185.39,39.92 186.77,39.57 188.15,39.22 189.53,38.89 190.91,38.57 192.28,38.26 193.66,37.95 195.04,37.65 196.42,37.37 197.80,37.09 199.17,36.81 200.55,36.55 201.93,36.29 203.31,36.04 204.69,35.79 206.07,35.55 207.44,35.32 208.82,35.09 210.20,34.87 211.58,34.66 212.96,34.45 214.34,34.24 215.71,34.04 217.09,33.85 218.47,33.66 219.85,33.47 221.23,33.29 222.61,33.11 223.98,32.94 225.36,32.77 226.74,32.60 228.12,32.44 229.50,32.28 230.88,32.13 232.25,31.98 233.63,31.83 235.01,31.68 236.39,31.54 237.77,31.40 239.15,31.27 240.52,31.14 241.90,31.01 243.28,30.88 244.66,30.76 246.04,30.63 247.42,30.51 248.79,30.40 250.17,30.28 251.55,30.17 252.93,30.06 254.31,29.95 255.69,29.85 257.06,29.74 258.44,29.64 259.82,29.54 261.20,29.44 262.58,29.35 263.96,29.25 265.33,29.16 266.71,29.07 268.09,28.98 269.47,28.90 270.85,28.81 272.23,28.73 273.60,28.64 274.98,28.56 276.36,28.48 277.74,28.40 279.12,28.33 280.50,28.25 281.87,28.18 283.25,28.10 284.63,28.03 286.01,27.96 287.39,27.89 288.77,27.83 290.14,27.76 291.52,27.69 292.90,27.63 294.28,27.57 295.66,27.50 297.04,27.44 298.41,27.38 299.79,27.32 301.17,27.26 302.55,27.21 303.93,27.15 305.30,27.09 306.68,27.04 308.06,26.98 309.44,26.93 310.82,26.88 312.20,26.83 313.57,26.78 314.95,26.73 316.33,26.68 317.71,26.63 319.09,26.58 320.47,26.53 321.84,26.49 323.22,26.44 324.60,26.40 325.98,26.35 327.36,26.31 328.74,26.27 330.11,26.22 331.49,26.18 332.87,26.14 334.25,26.10 335.63,26.06 337.01,26.02 338.38,25.98 339.76,25.94 341.14,25.91 342.52,25.87 343.90,25.83 345.28,25.80 346.65,25.76 348.03,25.73 349.41,25.69 350.79,25.66 352.17,25.62 353.55,25.59 354.92,25.56 356.30,25.52 357.68,25.49 359.06,25.46 360.44,25.43 361.82,25.40 363.19,25.37 364.57,25.34 365.95,25.31 367.33,25.28 368.71,25.25 370.09,25.22 371.46,25.19 372.84,25.17 374.22,25.14 375.60,25.11 376.98,25.09 378.36,25.06 379.73,25.03 381.11,25.01 382.49,24.98 383.87,24.96 385.25,24.93 386.63,24.91 388.00,24.88 389.38,24.86 390.76,24.84 392.14,24.81 393.52,24.79 394.90,24.77 396.27,24.74 397.65,24.72 399.03,24.70 400.41,24.68 401.79,24.66 403.17,24.63 404.54,24.61 405.92,24.59 407.30,24.57" fill="none" stroke="#ff8000" stroke-width="0.9" stroke-linejoin="round"/>
<polyline points="78.88,371.48 79.22,364.27 79.56,357.27 79.90,350.49 80.24,343.91 80.58,337.53 80.92,331.34 81.26,325.32 81.60,319.48 81.95,313.81 82.29,308.30 82.63,302.94 82.97,297.73 83.31,292.66 83.65,287.74 83.99,282.94 84.33,278.28 84.67,273.73 85.01,269.31 85.35,265.01 85.69,260.81 86.03,256.72 86.37,252.74 86.71,248.86 87.05,245.07 87.39,241.38 87.73,237.78 88.07,234.27 88.41,230.84 88.75,227.49 89.10,224.23 89.44,221.04 89.78,217.92 90.12,214.88 90.46,211.91 90.80,209.01 91.14,206.17 91.48,203.40 91.82,200.69 92.16,198.04 92.50,195.44 92.84,192.91 93.18,190.43 93.52,188.00 93.86,185.63 94.20,183.30 94.54,181.03 94.88,178.80 95.22,176.62 95.56,174.49 95.90,172.39 96.25,170.35 96.59,168.34 96.93,166.37 97.27,164.44 97.61,162.55 97.95,160.70 98.29,158.89 98.63,157.11 98.97,155.36 99.31,153.65 99.65,151.97 99.99,150.32 100.33,148.71 100.67,147.12 101.01,145.56 101.35,144.04 101.69,142.54 102.03,141.06 102.37,139.62 102.71,138.20 103.05,136.81 103.39,135.44 103.74,134.09 104.08,132.77 104.42,131.47 104.76,130.20 105.10,128.95 105.44,127.72 105.78,126.51 106.12,125.32 106.46,124.15 106.80,123.00 107.14,121.87 107.48,120.76 107.82,119.66 108.16,118.59 108.50,117.53 108.84,116.49 109.18,115.47 109.52,114.46 109.86,113.47 110.20,112.50 110.54,111.54 110.89,110.59 111.23,109.66 111.57,108.75 111.91,107.85 112.25,106.96 112.59,106.09 112.93,105.23 113.27,104.38 113.61,103.55 113.95,102.73 114.29,101.92 114.63,101.12 114.97,100.34 115.31,99.57 115.65,98.80 115.99,98.05 116.33,97.31 116.67,96.58 117.01,95.87 117.35,95.16 117.69,94.46 118.04,93.77 118.38,93.09 118.72,92.42 119.06,91.76 119.40,91.11 119.74,90.47 120.08,89.84 120.42,89.22 120.76,88.60 121.10,88.00 121.44,87.40 121.78,86.81 122.12,86.22 122.46,85.65 122.80,85.08 123.14,84.52 123.48,83.97 123.82,83.43 124.16,82.89 124.50,82.36 124.84,81.84 125.19,81.32 125.53,80.81 125.87,80.30 126.21,79.81 126.55,79.32 126.89,78.83 127.23,78.35 127.57,77.88 127.91,77.41 128.25,76.95 128.59,76.50 128.93,76.05 129.27,75.60 129.61,75.17 129.95,74.73 130.29,74.30 130.63,73.88 130.97,73.46 131.31,73.05 131.65,72.64 131.99,72.24 132.34,71.84 132.68,71.45 133.02,71.06 134.39,69.53 135.77,68.07 137.15,66.68 138.53,65.35 139.91,64.08 141.29,62.86 142.66,61.70 144.04,60.58 145.42,59.51 146.80,58.49 148.18,57.50 149.56,56.56 150.93,55.65 152.31,54.78 153.69,53.94 155.07,53.13 156.45,52.35 157.83,51.61 159.20,50.88 160.58,50.19 161.96,49.52 163.34,48.87 164.72,48.25 166.10,47.64 167.47,47.06 168.85,46.50 170.23,45.95 171.61,45.43 172.99,44.92 174.37,44.42 175.74,43.95 177.12,43.48 178.50,43.04 179.88,42.60 181.26,42.18 182.64,41.77 184.01,41.38 185.39,40.99 186.77,40.62 188.15,40.26 189.53,39.90 190.91,39.56 192.28,39.23 193.66,38.91 195.04,38.59 196.42,38.29 197.80,37.99 199.17,37.70 200.55,37.42 201.93,37.15 203.31,36.88 204.69,36.62 206.07,36.37 207.44,36.12 208.82,35.88 210.20,35.65 211.58,35.42 212.96,35.19 214.34,34.98 215.71,34.77 217.09,34.56 218.47,34.36 219.85,34.16 221.23,33.97 222.61,33.78 223.98,33.59 225.36,33.42 226.74,33.24 228.12,33.07 229.50,32.90 230.88,32.74 232.25,32.58 233.63,32.42 235.01,32.27 236.39,32.12 237.77,31.97 239.15,31.83 240.52,31.69 241.90,31.55 243.28,31.41 244.66,31.28 246.04,31.15 247.42,31.03 248.79,30.90 250.17,30.78 251.55,30.66 252.93,30.55 254.31,30.43 255.69,30.32 257.06,30.21 258.44,30.10 259.82,30.00 261.20,29.89 262.58,29.79 263.96,29.69 265.33,29.59 266.71,29.50 268.09,29.40 269.47,29.31 270.85,29.22 272.23,29.13 273.60,29.04 274.98,28.96 276.36,28.87 277.74,28.79 279.12,28.71 280.50,28.63 281.87,28.55 283.25,28.47 284.63,28.40 286.01,28.32 287.39,28.25 288.77,28.18 290.14,28.11 291.52,28.04 292.90,27.97 294.28,27.90 295.66,27.84 297.04,27.77 298.41,27.71 299.79,27.64 301.17,27.58 302.55,27.52 303.93,27.46 305.30,27.40 306.68,27.34 308.06,27.29 309.44,27.23 310.82,27.18 312.20,27.12 313.57,27.07 314.95,27.01 316.33,26.96 317.71,26.91 319.09,26.86 320.47,26.81 321.84,26.76 323.22,26.71 324.60,26.67 325.98,26.62 327.36,26.57 328.74,26.53 330.11,26.48 331.49,26.44 332.87,26.39 334.25,26.35 335.63,26.31 337.01,26.27 338.38,26.23 339.76,26.19 341.14,26.15 342.52,26.11 343.90,26.07 345.28,26.03 346.65,25.99 348.03,25.95 349.41,25.92 350.79,25.88 352.17,25.84 353.55,25.81 354.92,25.77 356.30,25.74 357.68,25.71 359.06,25.67 360.44,25.64 361.82,25.61 363.19,25.57 364.57,25.54 365.95,25.51 367.33,25.48 368.71,25.45 370.09,25.42 371.46,25.39 372.84,25.36 374.22,25.33 375.60,25.30 376.98,25.27 378.36,25.25 379.73,25.22 381.11,25.19 382.49,25.17 383.87,25.14 385.25,25.11 386.63,25.09 388.00,25.06 389.38,25.04 390.76,25.01 392.14,24.99 393.52,24.96 394.90,24.94 396.27,24.91 397.65,24.89 399.03,24.87 400.41,24.84 401.79,24.82 403.17,24.80 404.54,24.78 405.92,24.75 407.30,24.73" fill="none" stroke="#00ff00" stroke-width="3.6" stroke-linejoin="round"/>
<polyline points="78.88,381.31 79.22,373.89 79.56,366.70 79.90,359.73 80.24,352.97 80.58,346.40 80.92,340.04 81.26,333.85 81.60,327.85 81.95,322.01 82.29,316.35 82.63,310.84 82.97,305.48 83.31,300.27 83.65,295.21 83.99,290.28 84.33,285.48 84.67,280.81 85.01,276.27 85.35,271.84 85.69,267.53 86.03,263.33 86.37,259.23 86.71,255.24 87.05,251.35 87.39,247.55 87.73,243.85 88.07,240.24 88.41,236.71 88.75,233.27 89.10,229.91 89.44,226.64 89.78,223.43 90.12,220.31 90.46,217.25 90.80,214.27 91.14,211.35 91.48,208.50 91.82,205.71 92.16,202.99 92.50,200.32 92.84,197.72 93.18,195.17 93.52,192.67 93.86,190.23 94.20,187.84 94.54,185.50 94.88,183.21 95.22,180.97 95.56,178.78 95.90,176.62 96.25,174.52 96.59,172.45 96.93,170.43 97.27,168.45 97.61,166.51 97.95,164.60 98.29,162.74 98.63,160.91 98.97,159.11 99.31,157.35 99.65,155.63 99.99,153.93 100.33,152.27 100.67,150.64 101.01,149.04 101.35,147.47 101.69,145.93 102.03,144.41 102.37,142.93 102.71,141.47 103.05,140.04 103.39,138.63 103.74,137.25 104.08,135.89 104.42,134.55 104.76,133.24 105.10,131.96 105.44,130.69 105.78,129.45 106.12,128.22 106.46,127.02 106.80,125.84 107.14,124.68 107.48,123.54 107.82,122.41 108.16,121.31 108.50,120.22 108.84,119.15 109.18,118.10 109.52,117.06 109.86,116.04 110.20,115.04 110.54,114.06 110.89,113.09 111.23,112.13 111.57,111.19 111.91,110.26 112.25,109.35 112.59,108.46 112.93,107.57 113.27,106.70 113.61,105.84 113.95,105.00 114.29,104.17 114.63,103.35 114.97,102.54 115.31,101.75 115.65,100.97 115.99,100.19 116.33,99.43 116.67,98.68 117.01,97.95 117.35,97.22 117.69,96.50 118.04,95.79 118.38,95.09 118.72,94.41 119.06,93.73 119.40,93.06 119.74,92.40 120.08,91.75 120.42,91.11 120.76,90.48 121.10,89.85 121.44,89.24 121.78,88.63 122.12,88.03 122.46,87.44 122.80,86.86 123.14,86.28 123.48,85.72 123.82,85.16 124.16,84.60 124.50,84.06 124.84,83.52 125.19,82.99 125.53,82.46 125.87,81.95 126.21,81.44 126.55,80.93 126.89,80.43 127.23,79.94 127.57,79.45 127.91,78.97 128.25,78.50 128.59,78.03 128.93,77.57 129.27,77.11 129.61,76.66 129.95,76.22 130.29,75.78 130.63,75.34 130.97,74.91 131.31,74.49 131.65,74.07 131.99,73.66 132.34,73.25 132.68,72.84 133.02,72.44 134.39,70.87 135.77,69.37 137.15,67.94 138.53,66.57 139.91,65.27 141.29,64.02 142.66,62.82 144.04,61.67 145.42,60.57 146.80,59.52 148.18,58.51 149.56,57.53 150.93,56.60 152.31,55.70 153.69,54.84 155.07,54.01 156.45,53.21 157.83,52.44 159.20,51.70 160.58,50.98 161.96,50.29 163.34,49.63 164.72,48.99 166.10,48.37 167.47,47.77 168.85,47.19 170.23,46.63 171.61,46.09 172.99,45.56 174.37,45.06 175.74,44.57 177.12,44.09 178.50,43.63 179.88,43.18 181.26,42.75 182.64,42.33 184.01,41.92 185.39,41.53 186.77,41.14 188.15,40.77 189.53,40.41 190.91,40.06 192.28,39.72 193.66,39.39 195.04,39.06 196.42,38.75 197.80,38.44 199.17,38.15 200.55,37.86 201.93,37.58 203.31,37.30 204.69,37.03 206.07,36.77 207.44,36.52 208.82,36.27 210.20,36.03 211.58,35.80 212.96,35.57 214.34,35.35 215.71,35.13 217.09,34.91 218.47,34.71 219.85,34.50 221.23,34.31 222.61,34.11 223.98,33.92 225.36,33.74 226.74,33.56 228.12,33.38 229.50,33.21 230.88,33.04 232.25,32.88 233.63,32.72 235.01,32.56 236.39,32.40 237.77,32.25 239.15,32.11 240.52,31.96 241.90,31.82 243.28,31.68 244.66,31.55 246.04,31.41 247.42,31.28 248.79,31.16 250.17,31.03 251.55,30.91 252.93,30.79 254.31,30.67 255.69,30.56 257.06,30.44 258.44,30.33 259.82,30.22 261.20,30.12 262.58,30.01 263.96,29.91 265.33,29.81 266.71,29.71 268.09,29.62 269.47,29.52 270.85,29.43 272.23,29.34 273.60,29.25 274.98,29.16 276.36,29.07 277.74,28.99 279.12,28.90 280.50,28.82 281.87,28.74 283.25,28.66 284.63,28.58 286.01,28.50 287.39,28.43 288.77,28.36 290.14,28.28 291.52,28.21 292.90,28.14 294.28,28.07 295.66,28.00 297.04,27.94 298.41,27.87 299.79,27.81 301.17,27.74 302.55,27.68 303.93,27.62 305.30,27.56 306.68,27.50 308.06,27.44 309.44,27.38 310.82,27.32 312.20,27.27 313.57,27.21 314.95,27.16 316.33,27.10 317.71,27.05 319.09,27.00 320.47,26.95 321.84,26.90 323.22,26.85 324.60,26.80 325.98,26.75 327.36,26.70 328.74,26.66 330.11,26.61 331.49,26.57 332.87,26.52 334.25,26.48 335.63,26.43 337.01,26.39 338.38,26.35 339.76,26.31 341.14,26.26 342.52,26.22 343.90,26.18 345.28,26.14 346.65,26.11 348.03,26.07 349.41,26.03 350.79,25.99 352.17,25.96 353.55,25.92 354.92,25.88 356.30,25.85 357.68,25.81 359.06,25.78 360.44,25.74 361.82,25.71 363.19,25.68 364.57,25.65 365.95,25.61 367.33,25.58 368.71,25.55 370.09,25.52 371.46,25.49 372.84,25.46 374.22,25.43 375.60,25.40 376.98,25.37 378.36,25.34 379.73,25.31 381.11,25.28 382.49,25.26 383.87,25.23 385.25,25.20 386.63,25.18 388.00,25.15 389.38,25.12 390.76,25.10 392.14,25.07 393.52,25.05 394.90,25.02 396.27,25.00 397.65,24.97 399.03,24.95 400.41,24.93 401.79,24.90 403.17,24.88 404.54,24.86 405.92,24.83 407.30,24.81" fill="none" stroke="#000000" stroke-width="2.4" stroke-dasharray="0.6 1.8 2.8 1.8" stroke-linejoin="round"/>
</g>
<path d="M39.05 245.4V12.5H414.0V135.32M414.0 136.62V245.4H39.05" fill="none" stroke="#9e9e9e" stroke-width="0.9"/>
<line x1="46.40" y1="245.4" x2="46.40" y2="241.8" stroke="#9e9e9e" stroke-width="0.8"/>
<line x1="46.40" y1="12.5" x2="46.40" y2="16.1" stroke="#9e9e9e" stroke-width="0.8"/>
<line x1="60.84" y1="245.4" x2="60.84" y2="243.20000000000002" stroke="#9e9e9e" stroke-width="0.8"/>
<line x1="60.84" y1="12.5" x2="60.84" y2="14.7" stroke="#9e9e9e" stroke-width="0.8"/>
<line x1="75.27" y1="245.4" x2="75.27" y2="243.20000000000002" stroke="#9e9e9e" stroke-width="0.8"/>
<line x1="75.27" y1="12.5" x2="75.27" y2="14.7" stroke="#9e9e9e" stroke-width="0.8"/>
<line x1="89.71" y1="245.4" x2="89.71" y2="243.20000000000002" stroke="#9e9e9e" stroke-width="0.8"/>
<line x1="89.71" y1="12.5" x2="89.71" y2="14.7" stroke="#9e9e9e" stroke-width="0.8"/>
<line x1="104.14" y1="245.4" x2="104.14" y2="243.20000000000002" stroke="#9e9e9e" stroke-width="0.8"/>
<line x1="104.14" y1="12.5" x2="104.14" y2="14.7" stroke="#9e9e9e" stroke-width="0.8"/>
<line x1="118.58" y1="245.4" x2="118.58" y2="241.8" stroke="#9e9e9e" stroke-width="0.8"/>
<line x1="118.58" y1="12.5" x2="118.58" y2="16.1" stroke="#9e9e9e" stroke-width="0.8"/>
<line x1="133.02" y1="245.4" x2="133.02" y2="243.20000000000002" stroke="#9e9e9e" stroke-width="0.8"/>
<line x1="133.02" y1="12.5" x2="133.02" y2="14.7" stroke="#9e9e9e" stroke-width="0.8"/>
<line x1="147.45" y1="245.4" x2="147.45" y2="243.20000000000002" stroke="#9e9e9e" stroke-width="0.8"/>
<line x1="147.45" y1="12.5" x2="147.45" y2="14.7" stroke="#9e9e9e" stroke-width="0.8"/>
<line x1="161.89" y1="245.4" x2="161.89" y2="243.20000000000002" stroke="#9e9e9e" stroke-width="0.8"/>
<line x1="161.89" y1="12.5" x2="161.89" y2="14.7" stroke="#9e9e9e" stroke-width="0.8"/>
<line x1="176.32" y1="245.4" x2="176.32" y2="243.20000000000002" stroke="#9e9e9e" stroke-width="0.8"/>
<line x1="176.32" y1="12.5" x2="176.32" y2="14.7" stroke="#9e9e9e" stroke-width="0.8"/>
<line x1="190.76" y1="245.4" x2="190.76" y2="241.8" stroke="#9e9e9e" stroke-width="0.8"/>
<line x1="190.76" y1="12.5" x2="190.76" y2="16.1" stroke="#9e9e9e" stroke-width="0.8"/>
<line x1="205.20" y1="245.4" x2="205.20" y2="243.20000000000002" stroke="#9e9e9e" stroke-width="0.8"/>
<line x1="205.20" y1="12.5" x2="205.20" y2="14.7" stroke="#9e9e9e" stroke-width="0.8"/>
<line x1="219.63" y1="245.4" x2="219.63" y2="243.20000000000002" stroke="#9e9e9e" stroke-width="0.8"/>
<line x1="219.63" y1="12.5" x2="219.63" y2="14.7" stroke="#9e9e9e" stroke-width="0.8"/>
<line x1="234.07" y1="245.4" x2="234.07" y2="243.20000000000002" stroke="#9e9e9e" stroke-width="0.8"/>
<line x1="234.07" y1="12.5" x2="234.07" y2="14.7" stroke="#9e9e9e" stroke-width="0.8"/>
<line x1="248.50" y1="245.4" x2="248.50" y2="243.20000000000002" stroke="#9e9e9e" stroke-width="0.8"/>
<line x1="248.50" y1="12.5" x2="248.50" y2="14.7" stroke="#9e9e9e" stroke-width="0.8"/>
<line x1="262.94" y1="245.4" x2="262.94" y2="241.8" stroke="#9e9e9e" stroke-width="0.8"/>
<line x1="262.94" y1="12.5" x2="262.94" y2="16.1" stroke="#9e9e9e" stroke-width="0.8"/>
<line x1="277.38" y1="245.4" x2="277.38" y2="243.20000000000002" stroke="#9e9e9e" stroke-width="0.8"/>
<line x1="277.38" y1="12.5" x2="277.38" y2="14.7" stroke="#9e9e9e" stroke-width="0.8"/>
<line x1="291.81" y1="245.4" x2="291.81" y2="243.20000000000002" stroke="#9e9e9e" stroke-width="0.8"/>
<line x1="291.81" y1="12.5" x2="291.81" y2="14.7" stroke="#9e9e9e" stroke-width="0.8"/>
<line x1="306.25" y1="245.4" x2="306.25" y2="243.20000000000002" stroke="#9e9e9e" stroke-width="0.8"/>
<line x1="306.25" y1="12.5" x2="306.25" y2="14.7" stroke="#9e9e9e" stroke-width="0.8"/>
<line x1="320.68" y1="245.4" x2="320.68" y2="243.20000000000002" stroke="#9e9e9e" stroke-width="0.8"/>
<line x1="320.68" y1="12.5" x2="320.68" y2="14.7" stroke="#9e9e9e" stroke-width="0.8"/>
<line x1="335.12" y1="245.4" x2="335.12" y2="241.8" stroke="#9e9e9e" stroke-width="0.8"/>
<line x1="335.12" y1="12.5" x2="335.12" y2="16.1" stroke="#9e9e9e" stroke-width="0.8"/>
<line x1="349.56" y1="245.4" x2="349.56" y2="243.20000000000002" stroke="#9e9e9e" stroke-width="0.8"/>
<line x1="349.56" y1="12.5" x2="349.56" y2="14.7" stroke="#9e9e9e" stroke-width="0.8"/>
<line x1="363.99" y1="245.4" x2="363.99" y2="243.20000000000002" stroke="#9e9e9e" stroke-width="0.8"/>
<line x1="363.99" y1="12.5" x2="363.99" y2="14.7" stroke="#9e9e9e" stroke-width="0.8"/>
<line x1="378.43" y1="245.4" x2="378.43" y2="243.20000000000002" stroke="#9e9e9e" stroke-width="0.8"/>
<line x1="378.43" y1="12.5" x2="378.43" y2="14.7" stroke="#9e9e9e" stroke-width="0.8"/>
<line x1="392.86" y1="245.4" x2="392.86" y2="243.20000000000002" stroke="#9e9e9e" stroke-width="0.8"/>
<line x1="392.86" y1="12.5" x2="392.86" y2="14.7" stroke="#9e9e9e" stroke-width="0.8"/>
<line x1="407.30" y1="245.4" x2="407.30" y2="241.8" stroke="#9e9e9e" stroke-width="0.8"/>
<line x1="407.30" y1="12.5" x2="407.30" y2="16.1" stroke="#9e9e9e" stroke-width="0.8"/>
<line x1="39.05" y1="237.97" x2="41.25" y2="237.97" stroke="#9e9e9e" stroke-width="0.8"/>
<line x1="414.0" y1="237.97" x2="411.8" y2="237.97" stroke="#9e9e9e" stroke-width="0.8"/>
<line x1="39.05" y1="226.60" x2="41.25" y2="226.60" stroke="#9e9e9e" stroke-width="0.8"/>
<line x1="414.0" y1="226.60" x2="411.8" y2="226.60" stroke="#9e9e9e" stroke-width="0.8"/>
<line x1="39.05" y1="215.22" x2="41.25" y2="215.22" stroke="#9e9e9e" stroke-width="0.8"/>
<line x1="414.0" y1="215.22" x2="411.8" y2="215.22" stroke="#9e9e9e" stroke-width="0.8"/>
<line x1="39.05" y1="203.85" x2="41.25" y2="203.85" stroke="#9e9e9e" stroke-width="0.8"/>
<line x1="414.0" y1="203.85" x2="411.8" y2="203.85" stroke="#9e9e9e" stroke-width="0.8"/>
<line x1="39.05" y1="192.48" x2="42.65" y2="192.48" stroke="#9e9e9e" stroke-width="0.8"/>
<line x1="414.0" y1="192.48" x2="410.4" y2="192.48" stroke="#9e9e9e" stroke-width="0.8"/>
<line x1="39.05" y1="181.11" x2="41.25" y2="181.11" stroke="#9e9e9e" stroke-width="0.8"/>
<line x1="414.0" y1="181.11" x2="411.8" y2="181.11" stroke="#9e9e9e" stroke-width="0.8"/>
<line x1="39.05" y1="169.74" x2="41.25" y2="169.74" stroke="#9e9e9e" stroke-width="0.8"/>
<line x1="414.0" y1="169.74" x2="411.8" y2="169.74" stroke="#9e9e9e" stroke-width="0.8"/>
<line x1="39.05" y1="158.36" x2="41.25" y2="158.36" stroke="#9e9e9e" stroke-width="0.8"/>
<line x1="414.0" y1="158.36" x2="411.8" y2="158.36" stroke="#9e9e9e" stroke-width="0.8"/>
<line x1="39.05" y1="146.99" x2="41.25" y2="146.99" stroke="#9e9e9e" stroke-width="0.8"/>
<line x1="414.0" y1="146.99" x2="411.8" y2="146.99" stroke="#9e9e9e" stroke-width="0.8"/>
<line x1="39.05" y1="124.25" x2="41.25" y2="124.25" stroke="#9e9e9e" stroke-width="0.8"/>
<line x1="414.0" y1="124.25" x2="411.8" y2="124.25" stroke="#9e9e9e" stroke-width="0.8"/>
<line x1="39.05" y1="112.88" x2="41.25" y2="112.88" stroke="#9e9e9e" stroke-width="0.8"/>
<line x1="414.0" y1="112.88" x2="411.8" y2="112.88" stroke="#9e9e9e" stroke-width="0.8"/>
<line x1="39.05" y1="101.50" x2="41.25" y2="101.50" stroke="#9e9e9e" stroke-width="0.8"/>
<line x1="414.0" y1="101.50" x2="411.8" y2="101.50" stroke="#9e9e9e" stroke-width="0.8"/>
<line x1="39.05" y1="90.13" x2="41.25" y2="90.13" stroke="#9e9e9e" stroke-width="0.8"/>
<line x1="414.0" y1="90.13" x2="411.8" y2="90.13" stroke="#9e9e9e" stroke-width="0.8"/>
<line x1="39.05" y1="78.76" x2="42.65" y2="78.76" stroke="#9e9e9e" stroke-width="0.8"/>
<line x1="414.0" y1="78.76" x2="410.4" y2="78.76" stroke="#9e9e9e" stroke-width="0.8"/>
<line x1="39.05" y1="67.39" x2="41.25" y2="67.39" stroke="#9e9e9e" stroke-width="0.8"/>
<line x1="414.0" y1="67.39" x2="411.8" y2="67.39" stroke="#9e9e9e" stroke-width="0.8"/>
<line x1="39.05" y1="56.02" x2="41.25" y2="56.02" stroke="#9e9e9e" stroke-width="0.8"/>
<line x1="414.0" y1="56.02" x2="411.8" y2="56.02" stroke="#9e9e9e" stroke-width="0.8"/>
<line x1="39.05" y1="44.64" x2="41.25" y2="44.64" stroke="#9e9e9e" stroke-width="0.8"/>
<line x1="414.0" y1="44.64" x2="411.8" y2="44.64" stroke="#9e9e9e" stroke-width="0.8"/>
<line x1="39.05" y1="33.27" x2="41.25" y2="33.27" stroke="#9e9e9e" stroke-width="0.8"/>
<line x1="414.0" y1="33.27" x2="411.8" y2="33.27" stroke="#9e9e9e" stroke-width="0.8"/>
<line x1="39.05" y1="21.90" x2="42.65" y2="21.90" stroke="#9e9e9e" stroke-width="0.8"/>
<line x1="414.0" y1="21.90" x2="410.4" y2="21.90" stroke="#9e9e9e" stroke-width="0.8"/>
<text transform="translate(46.60,255.8) scale(1,1.12)" text-anchor="middle" class="t">0</text>
<text transform="translate(118.78,255.8) scale(1,1.12)" text-anchor="middle" class="t">100</text>
<text transform="translate(190.96,255.8) scale(1,1.12)" text-anchor="middle" class="t">200</text>
<text transform="translate(263.14,255.8) scale(1,1.12)" text-anchor="middle" class="t">300</text>
<text transform="translate(335.32,255.8) scale(1,1.12)" text-anchor="middle" class="t">400</text>
<text transform="translate(407.50,255.8) scale(1,1.12)" text-anchor="middle" class="t">500</text>
<text transform="translate(36.3,25.30) scale(1,1.12)" text-anchor="end" class="t">1.000</text>
<text transform="translate(36.3,82.16) scale(1,1.12)" text-anchor="end" class="t">0.999</text>
<text transform="translate(36.3,139.02) scale(1,1.12)" text-anchor="end" class="t">0.998</text>
<text transform="translate(36.3,195.88) scale(1,1.12)" text-anchor="end" class="t">0.997</text>
<text x="226.3" y="8.3" text-anchor="middle" font-size="10.6" fill="#1e1e1e" stroke="#1e1e1e" stroke-width="0.3"><tspan font-style="italic">β</tspan> = 3, l = 1</text>
<text x="227.7" y="273.1" text-anchor="middle" font-size="9.5" font-style="italic" fill="#111" stroke="#111" stroke-width="0.3">ω</text>
<text transform="translate(6.9,129.1) rotate(-90)" text-anchor="middle" font-size="10" fill="#444" stroke="#444" stroke-width="0.2">T</text>
<circle cx="379.6" cy="167.80" r="3.35" fill="#ff0000"/>
<text x="391" y="171.00" font-size="6.7" font-weight="bold" fill="#000" stroke="#000" stroke-width="0.15">Λ = 1</text>
<circle cx="379.6" cy="183.90" r="3.35" fill="#0000ff"/>
<text x="391" y="187.10" font-size="6.7" font-weight="bold" fill="#000" stroke="#000" stroke-width="0.15">Λ = 2</text>
<circle cx="379.6" cy="200.00" r="3.35" fill="#ff8000"/>
<text x="391" y="203.20" font-size="6.7" font-weight="bold" fill="#000" stroke="#000" stroke-width="0.15">Λ = 3</text>
<circle cx="379.6" cy="216.10" r="3.35" fill="#00ff00"/>
<text x="391" y="219.30" font-size="6.7" font-weight="bold" fill="#000" stroke="#000" stroke-width="0.15">Λ = 4</text>
<circle cx="379.6" cy="232.20" r="3.35" fill="#000000"/>
<text x="391" y="235.40" font-size="6.7" font-weight="bold" fill="#000" stroke="#000" stroke-width="0.15">Λ = 5</text>
</g>
</svg>
</body></html>
